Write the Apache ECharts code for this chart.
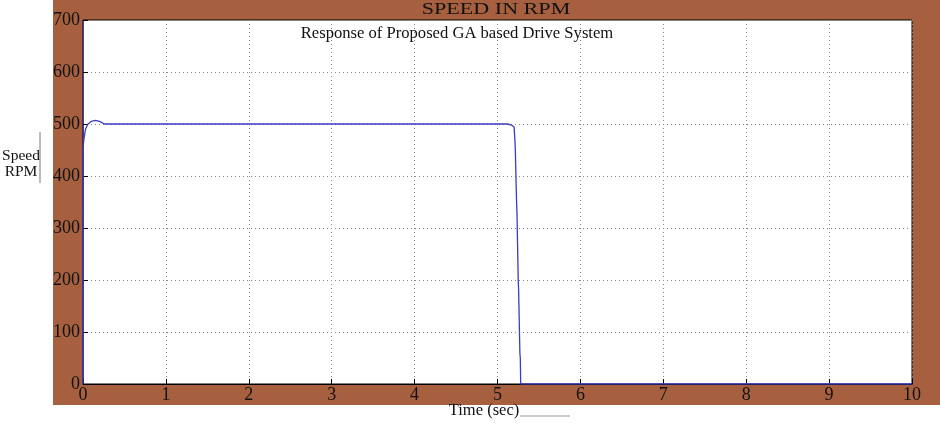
<!DOCTYPE html>
<html><head><meta charset="utf-8">
<script src="https://cdn.jsdelivr.net/npm/echarts@6/dist/echarts.min.js"></script>
<style>html,body{margin:0;padding:0;background:#fff}#c{width:940px;height:425px}</style>
</head><body><div id="c"></div>
<script>
var timeSec = [0, 0, 0.01, 0.03, 0.06, 0.1, 0.15, 0.2, 0.26, 0.3, 5.0, 5.12, 5.17, 5.2, 5.21, 5.215, 5.23, 5.235, 5.25, 5.255, 5.27, 5.275, 5.28, 5.3, 10];
var speedRpm = [0, 450, 470, 490, 500, 505, 507, 505, 500, 500, 500, 500, 498, 494, 470, 450, 350, 330, 200, 180, 60, 50, 0, 0, 0];
var yTicks = [0, 100, 200, 300, 400, 500, 600, 700];
var xTicks = [0, 1, 2, 3, 4, 5, 6, 7, 8, 9, 10];
var titleText = 'SPEED IN RPM';
var subText = 'Response of Proposed GA based Drive System';
var yName = 'Speed\nRPM';
var xName = 'Time (sec)';

var chart = echarts.init(document.getElementById('c'));
var font = 'Liberation Serif';
var pts = timeSec.map(function (t, i) { return [t, speedRpm[i]]; });
chart.setOption({
  animation: false,
  backgroundColor: '#fff',
  textStyle: { fontFamily: font },
  graphic: [
    { type: 'rect', z: -10, shape: { x: 53, y: 0, width: 887, height: 405 }, style: { fill: '#A6603F' } },
    { type: 'text', x: 496, y: 10, scaleX: 1.3, style: { text: titleText, font: '17px "Liberation Serif"', fill: '#111', textAlign: 'center', textVerticalAlign: 'middle' } },
    { type: 'text', x: 457, y: 34, z: 10, style: { text: subText, font: '16.6px "Liberation Serif"', fill: '#111', textAlign: 'center', textVerticalAlign: 'middle' } },
    { type: 'text', x: 21, y: 164, style: { text: yName, font: '15.5px "Liberation Serif"', fill: '#111', textAlign: 'center', textVerticalAlign: 'middle', lineHeight: 16 } },
    { type: 'line', shape: { x1: 40, y1: 132, x2: 40, y2: 183 }, style: { stroke: '#777', lineWidth: 1 } },
    { type: 'text', x: 484, y: 411, style: { text: xName, font: '16.5px "Liberation Serif"', fill: '#111', textAlign: 'center', textVerticalAlign: 'middle' } },
    { type: 'line', shape: { x1: 520, y1: 416, x2: 570, y2: 416 }, style: { stroke: '#999', lineWidth: 1 } }
  ],
  grid: { left: 83, right: 28, top: 20, bottom: 41, show: true, backgroundColor: '#fff', borderColor: '#000', borderWidth: 1 },
  xAxis: {
    type: 'value', min: 0, max: 10, interval: 1,
    axisLine: { show: true, lineStyle: { color: '#000' } },
    axisTick: { show: true, inside: true, length: 5, lineStyle: { color: '#000' } },
    axisLabel: { color: '#111', fontSize: 18, fontFamily: font, margin: 2, formatter: function (v) { return xTicks.indexOf(v) >= 0 ? String(v) : ''; } },
    splitLine: { show: true, lineStyle: { color: '#888', type: [1, 3] } }
  },
  yAxis: {
    type: 'value', min: 0, max: 700, interval: 100,
    axisLine: { show: true, lineStyle: { color: '#3b3bc4' } },
    axisTick: { show: true, inside: true, length: 5, lineStyle: { color: '#000' } },
    axisLabel: { color: '#111', fontSize: 18, fontFamily: font, margin: 3, formatter: function (v) { return yTicks.indexOf(v) >= 0 ? String(v) : ''; } },
    splitLine: { show: true, lineStyle: { color: '#888', type: [1, 3] } }
  },
  series: [{
    type: 'line', data: pts, showSymbol: false, z: 5,
    lineStyle: { color: '#3b3bc4', width: 1.3 }
  }]
});
</script></body></html>
